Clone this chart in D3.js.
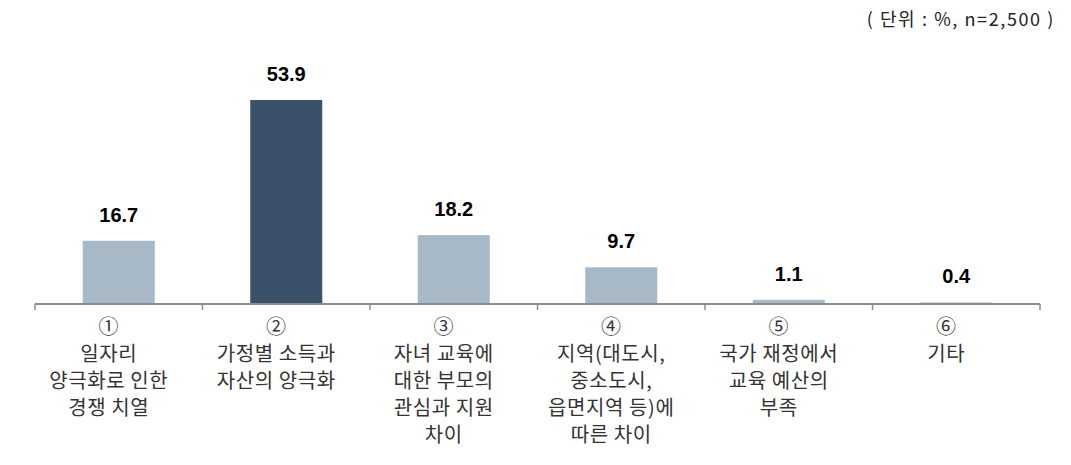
<!DOCTYPE html>
<html><head><meta charset="utf-8">
<script src="https://cdn.jsdelivr.net/npm/d3@7"></script>
<style>body{margin:0;background:#fff}svg{display:block}</style>
</head><body>
<svg id="c" width="1071" height="465"></svg>
<script>
const categories = ["①|일자리|양극화로 인한|경쟁 치열","②|가정별 소득과|자산의 양극화","③|자녀 교육에|대한 부모의|관심과 지원|차이","④|지역(대도시,|중소도시,|읍면지역 등)에|따른 차이","⑤|국가 재정에서|교육 예산의|부족","⑥|기타"];
const values = [16.7, 53.9, 18.2, 9.7, 1.1, 0.4];
const highlight = [false, true, false, false, false, false];
const unitLabel = "( 단위 : %, n=2,500 )";

const svg = d3.select("#c");
const x = d3.scaleBand().domain(d3.range(categories.length)).range([35, 1040]).paddingInner(0.57).paddingOuter(0.285);
const y = d3.scaleLinear().domain([0, 53.9]).range([304, 100]);

svg.selectAll("rect.bar").data(values).join("rect")
  .attr("class","bar")
  .attr("x",(d,i)=>x(i)).attr("width",x.bandwidth())
  .attr("y",d=>y(d)).attr("height",d=>y(0)-y(d))
  .attr("fill",(d,i)=>highlight[i]?"#3B5069":"#A7B9C6");

svg.selectAll("text.val").data(values).join("text")
  .attr("class","val")
  .attr("x",(d,i)=>x(i)+x.bandwidth()/2).attr("y",d=>y(d)-19)
  .attr("text-anchor","middle")
  .attr("font-family","'Liberation Sans', Arial, sans-serif")
  .attr("font-weight","bold").attr("font-size",20).attr("fill","#000")
  .text(d=>d.toFixed(1));

// axis
const edges = d3.range(categories.length+1).map(i=>35 + i*(1005/categories.length));
svg.append("line").attr("x1",35).attr("x2",1040).attr("y1",304).attr("y2",304)
  .attr("stroke","#8c8c8c").attr("stroke-width",2);
svg.selectAll("line.tick").data(edges).join("line").attr("class","tick")
  .attr("x1",d=>d).attr("x2",d=>d).attr("y1",304).attr("y2",310)
  .attr("stroke","#8c8c8c").attr("stroke-width",1.5);

// category labels
categories.forEach((c,i)=>{
  const lines = c.split("|");
  const cx = x(i)+x.bandwidth()/2 - 10;
  const t = svg.append("text")
    .attr("x", cx).attr("y", 334)
    .attr("text-anchor","middle")
    .attr("font-family","'Noto Sans CJK KR', sans-serif")
    .attr("font-size",20).attr("letter-spacing",0.6).attr("fill","#333");
  lines.forEach((l,j)=>{
    t.append("tspan").attr("x", cx).attr("y", 334 + j*27).text(l);
  });
});

svg.append("text").attr("x",1055).attr("y",26).attr("text-anchor","end")
  .attr("font-family","'Noto Sans CJK KR', sans-serif").attr("font-size",18)
  .attr("letter-spacing",1.6).attr("fill","#222")
  .text(unitLabel);
</script>
</body></html>
